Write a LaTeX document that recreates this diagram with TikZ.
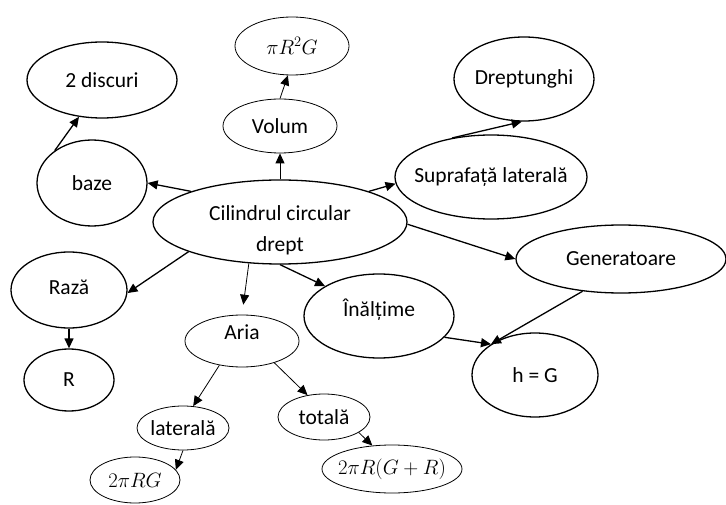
\documentclass[tikz,border=0pt]{standalone}
\usepackage{fontspec}
\setmainfont{Carlito}
\usetikzlibrary{shapes.geometric,arrows.meta}
\begin{document}
\begin{tikzpicture}[x=1pt,y=-1pt,
  every label/.style={font=\fontsize{21.5}{31}\selectfont, inner sep=0pt, align=center},
  bub/.style={ellipse, draw, inner sep=0pt, line width=1.3pt},
  bubthin/.style={bub, line width=0.8pt},
  link/.style={line width=1.3pt, -{Triangle[length=10pt,width=9pt]}},
  linkthin/.style={link, line width=0.8pt},
]
\useasboundingbox (0,0) rectangle (726,505);

% concept bubbles
\node[bub, minimum width=150pt, minimum height=76pt, label={center:2 discuri}] (disc) at (102,80) {};
\node[bubthin, minimum width=114pt, minimum height=58pt, label={center:$\pi R^2 G$}] (pi) at (292,46) {};
\node[bubthin, minimum width=114pt, minimum height=54pt, label={center:Volum}] (vol) at (280,126) {};
\node[bub, minimum width=110pt, minimum height=86pt, label={center:baze}] (baze) at (92,183) {};
\node[bub, minimum width=254pt, minimum height=84pt, label={[yshift=-8pt]center:Cilindrul circular\\drept}] (cil) at (280,222) {};
\node[bub, minimum width=140pt, minimum height=84pt, label={center:Dreptunghi}] (drept) at (524,79) {};
\node[bub, minimum width=192pt, minimum height=84pt, label={center:Suprafață laterală}] (supr) at (491,177) {};
\node[bub, minimum width=210pt, minimum height=68pt, label={center:Generatoare}] (gen) at (621,259) {};
\node[bub, minimum width=150pt, minimum height=84pt, label={[yshift=6pt]center:Înălțime}] (inal) at (379,316) {};
\node[bub, minimum width=126pt, minimum height=84pt, label={center:h = G}] (hg) at (535,375) {};
\node[bub, minimum width=116pt, minimum height=76pt, label={[yshift=3pt]center:Rază}] (raza) at (69,290) {};
\node[bub, minimum width=90pt, minimum height=62pt, label={center:R}] (r) at (69,380) {};
\node[bubthin, minimum width=114pt, minimum height=52pt, label={[yshift=9pt]center:Aria}] (aria) at (242,341) {};
\node[bubthin, minimum width=92pt, minimum height=44pt, label={center:laterală}] (lat) at (183,428) {};
\node[bubthin, minimum width=92pt, minimum height=46pt, label={center:totală}] (tot) at (324,417) {};
\node[bubthin, minimum width=90pt, minimum height=46pt, label={center:$2\pi RG$}] (rg) at (135,480) {};
\node[bubthin, minimum width=140pt, minimum height=48pt, label={center:$2\pi R(G+R)$}] (grr) at (392,469) {};

% connectors
\draw[link] (baze.139) -- (disc.-122);
\draw[link] (cil.161) -- (baze.0);
\draw[linkthin] (cil.90) -- (vol.-90);
\draw[linkthin] (vol.90) -- (pi.-98);
\draw[link] (cil.19) -- (supr.-176);
\draw[link] (supr.135) -- (drept.-93);
\draw[link] (cil.-1) -- (gen.180);
\draw[link] (cil.198) -- (raza.-3);
\draw[linkthin, shorten >=10pt] (cil.-127) -- (aria.90);
\draw[link] (cil.-90) -- (inal.151);
\draw[link] (raza.-90) -- (r.90);
\draw[linkthin] (aria.-133) -- (lat.65);
\draw[linkthin] (aria.-34) -- (tot.127);
\draw[linkthin] (lat.-90) -- (rg.14);
\draw[linkthin] (tot.-24) -- (grr.130);
\draw[link] (inal.-18) -- (hg.145);
\draw[link] (gen.-140) -- (hg.145);
\end{tikzpicture}
\end{document}
